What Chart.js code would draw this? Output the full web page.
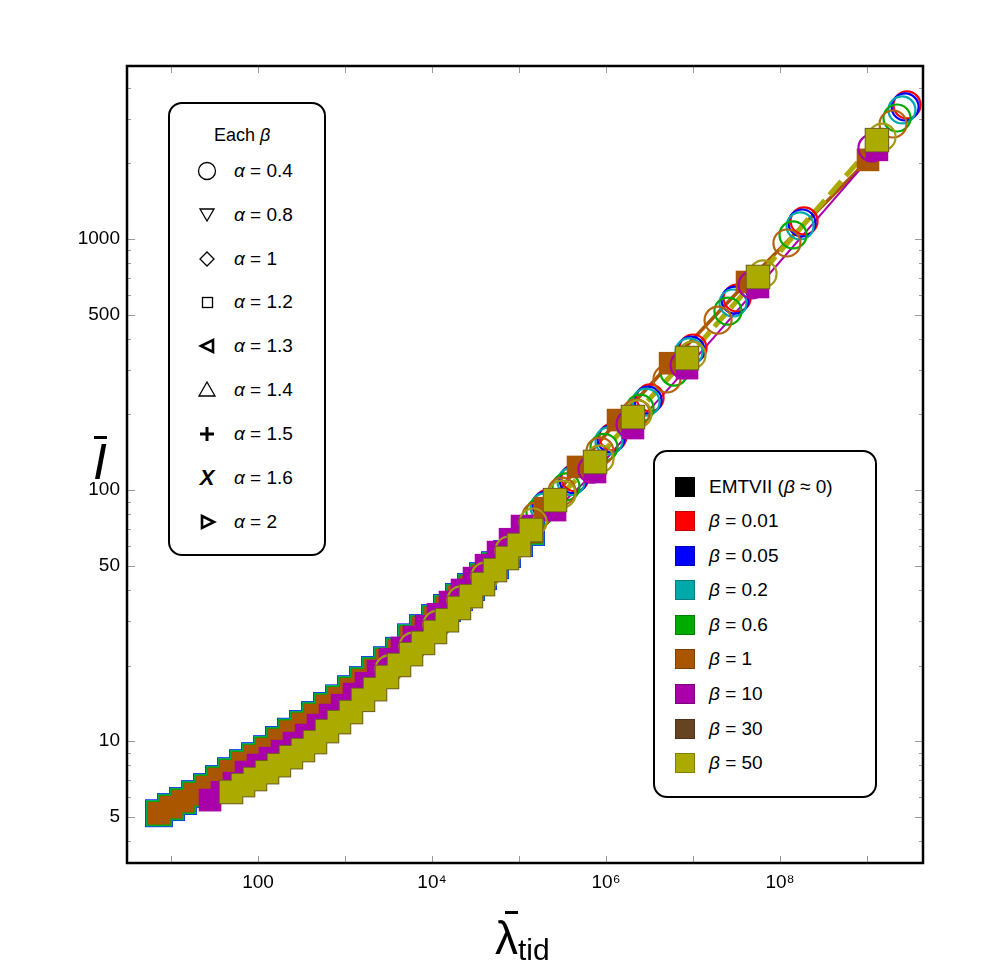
<!DOCTYPE html>
<html>
<head>
<meta charset="utf-8">
<script src="https://cdn.jsdelivr.net/npm/chart.js@4.4.0/dist/chart.umd.min.js"></script>
<style>
  html, body { margin: 0; padding: 0; background: #fff; }
  #wrap { position: relative; width: 997px; height: 973px; font-family: "Liberation Sans", Arial, sans-serif; color: #000; }
  #chart { position: absolute; left: 0; top: 0; }
  .box { position: absolute; box-sizing: border-box; border: 2px solid #000; border-radius: 14px; background: #fff; }
  .row { position: absolute; left: 0; height: 24px; line-height: 24px; font-size: 19px; white-space: nowrap; }
  .sym { position: absolute; width: 24px; height: 24px; text-align: center; }
  .sym svg { display: block; }
  .lbl { position: absolute; }
  .sw { position: absolute; width: 20px; height: 20px; top: 2px; box-sizing: border-box; border: 1px solid rgba(0,0,0,0.25); }
  .bar { position: absolute; background: #000; }
</style>
</head>
<body>
<div id="wrap">
  <canvas id="chart" width="997" height="973"></canvas>

  <!-- alpha legend -->
  <div class="box" style="left:168px; top:102px; width:158px; height:454px;">
    <div class="row" style="top:19px; left:44px; font-size:18px;">Each <i>β</i></div>
    <div class="row" style="top:55px;"><span class="sym" style="left:25px"><svg width="24" height="24"><circle cx="12" cy="12" r="8.5" fill="none" stroke="#000" stroke-width="1.3"/></svg></span><span class="lbl" style="left:64px"><i>α</i> = 0.4</span></div>
    <div class="row" style="top:99px;"><span class="sym" style="left:25px"><svg width="24" height="24"><polygon points="5,6 19,6 12,18" fill="none" stroke="#000" stroke-width="1.3"/></svg></span><span class="lbl" style="left:64px"><i>α</i> = 0.8</span></div>
    <div class="row" style="top:143px;"><span class="sym" style="left:25px"><svg width="24" height="24"><polygon points="12,5 19,12 12,19 5,12" fill="none" stroke="#000" stroke-width="1.3"/></svg></span><span class="lbl" style="left:64px"><i>α</i> = 1</span></div>
    <div class="row" style="top:186px;"><span class="sym" style="left:25px"><svg width="24" height="24"><rect x="7.5" y="7.5" width="10" height="10" fill="none" stroke="#000" stroke-width="1.3"/></svg></span><span class="lbl" style="left:64px"><i>α</i> = 1.2</span></div>
    <div class="row" style="top:230px;"><span class="sym" style="left:25px"><svg width="24" height="24"><polygon points="6,12 18,6 18,18" fill="none" stroke="#000" stroke-width="2.6"/></svg></span><span class="lbl" style="left:64px"><i>α</i> = 1.3</span></div>
    <div class="row" style="top:274px;"><span class="sym" style="left:25px"><svg width="24" height="24"><polygon points="12,4 20,18 4,18" fill="none" stroke="#000" stroke-width="1.3"/></svg></span><span class="lbl" style="left:64px"><i>α</i> = 1.4</span></div>
    <div class="row" style="top:318px;"><span class="sym" style="left:25px"><svg width="24" height="24"><path d="M5 12 H19 M12 5 V19" stroke="#000" stroke-width="3"/></svg></span><span class="lbl" style="left:64px"><i>α</i> = 1.5</span></div>
    <div class="row" style="top:362px;"><span class="sym" style="left:25px; font-size:22px; font-weight:bold; font-style:italic;">X</span><span class="lbl" style="left:64px"><i>α</i> = 1.6</span></div>
    <div class="row" style="top:406px;"><span class="sym" style="left:25px"><svg width="24" height="24"><polygon points="7,6 19,12 7,18" fill="none" stroke="#000" stroke-width="2.6"/></svg></span><span class="lbl" style="left:64px"><i>α</i> = 2</span></div>
  </div>

  <!-- beta legend -->
  <div class="box" style="left:653px; top:450px; width:224px; height:348px;">
    <div class="row" style="top:23px;"><span class="sw" style="left:20px; background:#000"></span><span class="lbl" style="left:54px">EMTVII (<i>β</i> ≈ 0)</span></div>
    <div class="row" style="top:57px;"><span class="sw" style="left:20px; background:#ff0000"></span><span class="lbl" style="left:54px"><i>β</i> = 0.01</span></div>
    <div class="row" style="top:92px;"><span class="sw" style="left:20px; background:#0000ff"></span><span class="lbl" style="left:54px"><i>β</i> = 0.05</span></div>
    <div class="row" style="top:126px;"><span class="sw" style="left:20px; background:#00a9a9"></span><span class="lbl" style="left:54px"><i>β</i> = 0.2</span></div>
    <div class="row" style="top:161px;"><span class="sw" style="left:20px; background:#00aa00"></span><span class="lbl" style="left:54px"><i>β</i> = 0.6</span></div>
    <div class="row" style="top:195px;"><span class="sw" style="left:20px; background:#aa5500"></span><span class="lbl" style="left:54px"><i>β</i> = 1</span></div>
    <div class="row" style="top:230px;"><span class="sw" style="left:20px; background:#aa00aa"></span><span class="lbl" style="left:54px"><i>β</i> = 10</span></div>
    <div class="row" style="top:265px;"><span class="sw" style="left:20px; background:#664422"></span><span class="lbl" style="left:54px"><i>β</i> = 30</span></div>
    <div class="row" style="top:299px;"><span class="sw" style="left:20px; background:#aaaa00"></span><span class="lbl" style="left:54px"><i>β</i> = 50</span></div>
  </div>

  <!-- axis titles -->
  <div class="bar" style="left:505px; top:911px; width:13px; height:2.5px;"></div>
  <div style="position:absolute; left:495px; top:912px; font-size:46px; line-height:52px; white-space:nowrap;">λ<span style="font-size:30px; position:relative; top:6px;">tid</span></div>
  <div class="bar" style="left:94px; top:436px; width:13px; height:2.5px;"></div>
  <div style="position:absolute; left:80px; top:434px; width:40px; font-size:50px; line-height:56px; font-style:italic; text-align:center;">I</div>
</div>

<script>
// tick positions
const xTickLabels = [100, 1e4, 1e6, 1e8];
const xDecades = [10, 100, 1e3, 1e4, 1e5, 1e6, 1e7, 1e8, 1e9];
const yTickLabels = [5, 10, 50, 100, 500, 1000];
const yMinor = [4, 6, 7, 8, 9, 20, 30, 40, 60, 70, 80, 90, 200, 300, 400, 600, 700, 800, 900, 2000, 3000, 4000];

// beta = 1 (squares)
const lamB1 = [7.28, 10.0, 13.7, 18.9, 25.9, 35.6, 49.0, 67.3, 92.4, 127, 174, 239, 329, 452, 621, 853, 1172, 1611, 2213, 3041, 4178, 5741, 7889, 10830, 14860, 20420, 28050, 38550, 52970, 72790, 100000, 137400, 199000, 477000, 1.374e6, 5.45e6, 4.18e7, 1.026e9];
const iB1 = [5.16, 5.46, 5.77, 6.15, 6.56, 7.06, 7.59, 8.17, 8.71, 9.29, 10.1, 10.9, 11.7, 12.7, 13.8, 14.8, 16.1, 17.5, 19.2, 21.0, 22.9, 25.9, 28.2, 30.9, 33.9, 37.5, 41.1, 45.4, 50.2, 55.6, 61.5, 68.1, 84.7, 123.6, 190, 320, 674, 2066];

// beta = 10 (squares)
const lamB10 = [28.1, 38.5, 52.9, 72.8, 100, 137, 189, 259, 357, 490, 673, 925, 1268, 1742, 2393, 3289, 4519, 6209, 8531, 11720, 16100, 22130, 30410, 41780, 57410, 78880, 108300, 259400, 748000, 2.04e6, 8.53e6, 5.58e7, 1.30e9];
const iB10 = [5.82, 6.25, 6.8, 7.53, 8.03, 8.55, 9.12, 9.82, 10.57, 11.58, 12.7, 13.9, 15.4, 17.0, 19.0, 21.2, 23.5, 26.0, 28.7, 32.0, 35.8, 40.0, 44.6, 50.2, 56.6, 63.7, 71.9, 83.2, 118, 176.6, 306, 644, 2265];

// beta = 50 (squares)
const lamB50 = [49.0, 67.3, 92.4, 127, 174, 239, 329, 452, 621, 853, 1172, 1611, 2213, 3041, 4178, 5741, 7889, 10830, 14860, 20420, 28050, 38550, 52970, 72790, 100000, 137400, 259400, 748000, 2.04e6, 8.53e6, 5.58e7, 1.30e9];
const iB50 = [6.27, 6.68, 7.06, 7.52, 8.02, 8.63, 9.21, 9.91, 10.96, 11.9, 13.05, 14.6, 16.1, 18.0, 20.1, 22.2, 24.6, 27.2, 30.3, 33.9, 37.8, 42.2, 48.0, 53.6, 60.4, 69.3, 91.2, 129.4, 195.4, 335.7, 706, 2477];

// alpha = 0.4 (circles), one pair per beta
const lamC001 = [2.15e5, 4.40e5, 1.20e6, 3.21e6, 1.0e7, 3.21e7, 1.89e8, 2.88e9];
const iC001 = [88.7, 112, 163, 233, 368, 582, 1180, 3420];
const lamC005 = [2.04e5, 4.18e5, 1.14e6, 3.04e6, 9.48e6, 3.04e7, 1.79e8, 2.74e9];
const iC005 = [87.1, 110, 160, 228, 361, 571, 1158, 3357];
const lamC02 = [1.94e5, 3.96e5, 1.08e6, 2.88e6, 9.0e6, 2.88e7, 1.70e8, 2.52e9];
const iC02 = [85.5, 108, 157, 224, 355, 556, 1127, 3266];
const lamC06 = [1.74e5, 3.47e5, 9.48e5, 2.46e6, 6.05e6, 2.52e7, 1.41e8, 2.21e9];
const iC06 = [81.7, 103, 148, 212, 295, 516, 1038, 3034];
const lamC1 = [1.57e5, 3.12e5, 8.53e5, 2.21e6, 5.02e6, 1.94e7, 1.20e8, 1.99e9];
const iC1 = [78.7, 99, 143, 203, 277, 475, 964, 2871];
const lamC10 = [6.90e5, 1.89e6, 7.88e6, 4.77e7, 1.14e9];
const iC10 = [121, 183, 315, 656, 2305];
const lamC50 = [3206, 6050, 1.14e4, 2.15e4, 4.06e4, 7.67e4, 1.45e5, 3.12e5, 8.53e5, 2.33e6, 9.75e6, 6.38e7, 1.49e9];
const iC50 = [19.4, 23.9, 29.2, 36.5, 45.4, 57.7, 74.6, 96.4, 133, 201, 345, 726, 2547];

// how many beta = 1 points belong to the dense low-lambda band
const denseCount = 32;

const pts = (xs, ys) => xs.map((v, i) => ({ x: v, y: ys[i] }));

const sq = (label, xs, ys, fill, r) => ({
  label, data: pts(xs, ys), showLine: false,
  pointStyle: 'rect', pointRadius: r, pointHoverRadius: r,
  pointBackgroundColor: fill, pointBorderWidth: 0
});
const ring = (label, xs, ys, color) => ({
  label, data: pts(xs, ys), showLine: false,
  pointStyle: 'circle', pointRadius: 13.5, pointHoverRadius: 13.5,
  pointBackgroundColor: 'rgba(0,0,0,0)', pointBorderColor: color, pointBorderWidth: 2.2
});
const line = (label, xs, ys, color, w, dash) => ({
  label, data: pts(xs, ys), showLine: true, pointRadius: 0,
  borderColor: color, borderWidth: w, borderDash: dash || [], fill: false
});

// inner ticks and frame
const frameTicks = {
  id: 'frameTicks',
  afterDraw(chart) {
    const { ctx, chartArea: a, scales: { x, y } } = chart;
    ctx.save();
    ctx.strokeStyle = '#9a9a9a';
    ctx.lineWidth = 1;
    ctx.beginPath();
    xDecades.forEach(v => {
      const px = Math.round(x.getPixelForValue(v)) + 0.5;
      ctx.moveTo(px, a.bottom); ctx.lineTo(px, a.bottom - 7);
      ctx.moveTo(px, a.top); ctx.lineTo(px, a.top + 7);
    });
    yTickLabels.forEach(v => {
      const py = Math.round(y.getPixelForValue(v)) + 0.5;
      ctx.moveTo(a.left, py); ctx.lineTo(a.left + 8, py);
      ctx.moveTo(a.right, py); ctx.lineTo(a.right - 8, py);
    });
    yMinor.forEach(v => {
      const py = Math.round(y.getPixelForValue(v)) + 0.5;
      ctx.moveTo(a.left, py); ctx.lineTo(a.left + 4, py);
      ctx.moveTo(a.right, py); ctx.lineTo(a.right - 4, py);
    });
    ctx.stroke();
    ctx.strokeStyle = '#000';
    ctx.lineWidth = 2.5;
    ctx.strokeRect(a.left, a.top, a.right - a.left, a.bottom - a.top);
    ctx.restore();
  }
};

const sup = { '0': '⁰', '1': '¹', '2': '²', '3': '³', '4': '⁴', '5': '⁵', '6': '⁶', '7': '⁷', '8': '⁸', '9': '⁹' };
const lamDense = lamB1.slice(0, denseCount);
const iDense = iB1.slice(0, denseCount);

new Chart(document.getElementById('chart'), {
  type: 'scatter',
  data: {
    datasets: [
      sq('β = 50', lamB50, iB50, '#aaaa00', 16),
      sq('β = 30', lamB50, iB50, '#6a5426', 17.3),
      ring('β = 50, α = 0.4', lamC50, iC50, '#a39c12'),
      sq('β = 10', lamB10, iB10, '#aa00aa', 16),
      ring('β = 10, α = 0.4', lamC10, iC10, '#aa00aa'),
      sq('β = 1', lamB1, iB1, '#aa5500', 16),
      ring('β = 1, α = 0.4', lamC1, iC1, '#b5620f'),
      ring('β = 0.6, α = 0.4', lamC06, iC06, '#00aa00'),
      ring('β = 0.2, α = 0.4', lamC02, iC02, '#00a9a9'),
      ring('β = 0.05, α = 0.4', lamC005, iC005, '#0000ff'),
      ring('β = 0.01, α = 0.4', lamC001, iC001, '#ff0000'),
      sq('β = 0.6', lamDense, iDense, '#00aa00', 17.8),
      sq('β = 0.2', lamDense, iDense, '#00a9a9', 18.9),
      sq('β = 0.05', lamDense, iDense, '#0000ff', 19.7),
      line('β = 50 line', lamB50, iB50, '#aaaa00', 5, [18, 7]),
      line('β = 10 line', lamB10, iB10, '#aa00aa', 2),
      line('β = 1 line', lamB1, iB1, '#aa5500', 3.5)
    ]
  },
  options: {
    responsive: false,
    animation: false,
    devicePixelRatio: 1,
    events: [],
    layout: { padding: { top: 66, right: 74, left: 0, bottom: 0 } },
    plugins: { legend: { display: false }, tooltip: { enabled: false } },
    scales: {
      x: {
        type: 'logarithmic',
        min: 3.12, max: 4.4e9,
        grid: { display: false, drawTicks: false },
        border: { display: false },
        afterBuildTicks: s => { s.ticks = xTickLabels.map(v => ({ value: v })); },
        afterFit: s => { s.height = 110; },
        ticks: {
          autoSkip: false, maxRotation: 0, padding: 8, color: '#000',
          font: { family: '"Liberation Sans", Arial, sans-serif', size: 19 },
          callback: v => {
            const e = Math.round(Math.log10(v));
            return e === 2 ? '100' : '10' + sup[e];
          }
        }
      },
      y: {
        type: 'logarithmic',
        min: 3.27, max: 4887,
        grid: { display: false, drawTicks: false },
        border: { display: false },
        afterBuildTicks: s => { s.ticks = yTickLabels.map(v => ({ value: v })); },
        afterFit: s => { s.width = 127; },
        ticks: {
          autoSkip: false, padding: 7, color: '#000',
          font: { family: '"Liberation Sans", Arial, sans-serif', size: 19 },
          callback: v => String(v)
        }
      }
    }
  },
  plugins: [frameTicks]
});
</script>
</body>
</html>
